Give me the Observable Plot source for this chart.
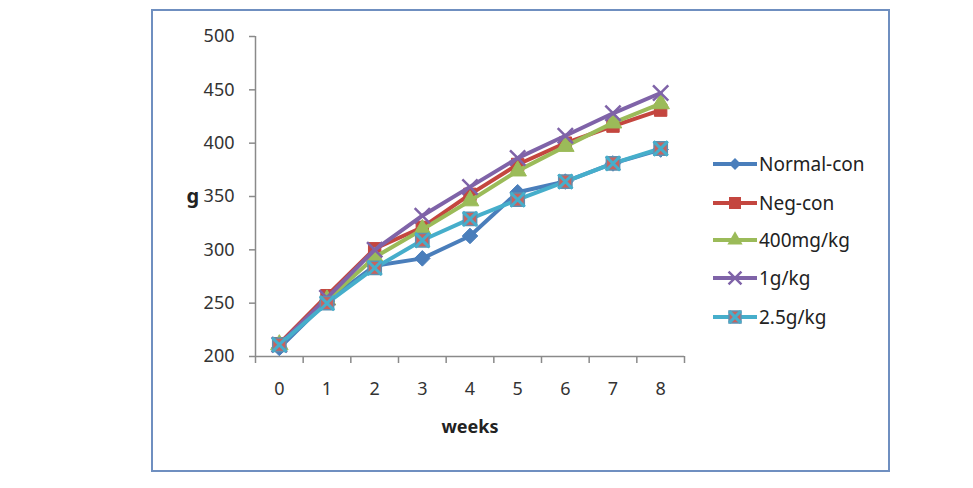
<!DOCTYPE html>
<html>
<head>
<meta charset="utf-8">
<script src="https://cdn.jsdelivr.net/npm/d3@7"></script>
<script src="https://cdn.jsdelivr.net/npm/@observablehq/plot@0.6"></script>
<style>
  html, body { margin: 0; padding: 0; background: #fff; }
  #wrap { position: relative; width: 973px; height: 488px; overflow: hidden; font-family: "Noto Sans", sans-serif; }
  #frame { position: absolute; left: 151px; top: 9px; width: 735px; height: 459px; border: 2px solid #6f8fc0; box-sizing: content-box; }
  #chart { position: absolute; left: 0; top: 0; }
  #legend { position: absolute; left: 700px; top: 140px; }
</style>
</head>
<body>
<div id="wrap"><div id="frame"></div><div id="chart"></div><svg id="legend" width="200" height="200"></svg></div>
<script>
const weeks = [0, 1, 2, 3, 4, 5, 6, 7, 8];
const weekLabels = ["0", "1", "2", "3", "4", "5", "6", "7", "8"];
const seriesNames = ["Normal-con", "Neg-con", "400mg/kg", "1g/kg", "2.5g/kg"];
const normalCon = [208, 252, 285, 292, 313, 354, 364, 381, 394];
const negCon    = [212, 257, 301, 321, 352, 380, 400, 416, 431];
const mg400     = [211, 253, 293, 319, 346, 374, 397, 419, 437];
const g1        = [211, 255, 300, 332, 359, 386, 407, 428, 447];
const g25       = [211, 250, 283, 309, 329, 347, 364, 381, 395];
const yTicks = [200, 250, 300, 350, 400, 450, 500];
const colors = ["#4a7ebb", "#c4463f", "#9bbb59", "#7f63a8", "#46aecb"];
const symbols = ["diamond2", "square", "triangle", "times", "square"];
const sizes = [7, 7, 6.5, 7, 7.5];

const allSeries = [normalCon, negCon, mg400, g1, g25];
const rows = [];
allSeries.forEach((vals, si) => vals.forEach((v, i) => rows.push({series: seriesNames[si], si, week: weeks[i], value: v})));

const marks = [
  Plot.ruleX([-0.5], {stroke: "#8a8a8a", strokeWidth: 1.5}),
  Plot.ruleY([200], {stroke: "#8a8a8a", strokeWidth: 1.5}),
  Plot.axisY({ticks: yTicks, tickSize: 6, tickPadding: 15, label: null, stroke: "#8a8a8a", fill: "#333", strokeWidth: 1.5}),
  Plot.axisX({ticks: d3.range(-0.5, 9, 1), tickSize: 7, tickFormat: () => "", label: null, stroke: "#8a8a8a", strokeWidth: 1.5}),
  Plot.axisX({ticks: weeks, tickSize: 0, tickPadding: 26, tickFormat: (d, i) => weekLabels[i], label: null, fill: "#333"}),
  Plot.text(["weeks"], {frameAnchor: "bottom", dy: 76, fontWeight: "bold", fontSize: 18, fill: "#222"}),
  Plot.text(["g"], {frameAnchor: "left", dx: -69, dy: 0, fontWeight: "bold", fontSize: 20, fill: "#222"})
];

seriesNames.forEach((name, si) => {
  const data = rows.filter(r => r.si === si);
  marks.push(Plot.line(data, {x: "week", y: "value", stroke: colors[si], strokeWidth: 4, strokeLinejoin: "round"}));
  if (si === 4) {
    marks.push(Plot.dot(data, {x: "week", y: "value", symbol: "square", r: sizes[si], fill: "#c9625e", stroke: "#5f90b0", strokeWidth: 1.5}));
    marks.push(Plot.dot(data, {x: "week", y: "value", symbol: "times", r: 6.5, stroke: colors[si], strokeWidth: 3}));
  } else if (symbols[si] === "times") {
    marks.push(Plot.dot(data, {x: "week", y: "value", symbol: "times", r: sizes[si], stroke: colors[si], strokeWidth: 2.5}));
  } else {
    marks.push(Plot.dot(data, {x: "week", y: "value", symbol: symbols[si], r: sizes[si], fill: colors[si], stroke: colors[si], strokeWidth: 1}));
  }
});

const chart = Plot.plot({
  width: 973, height: 488,
  marginLeft: 255, marginRight: 289, marginTop: 36, marginBottom: 132,
  x: {type: "linear", domain: [-0.5, 8.5]},
  y: {domain: [200, 500]},
  style: {fontFamily: "Noto Sans, sans-serif", fontSize: "18px", background: "transparent", overflow: "visible"},
  marks
});
document.getElementById("chart").appendChild(chart);

// legend
const lg = d3.select("#legend");
const rowY = [24, 63, 100, 138, 177];
seriesNames.forEach((name, si) => {
  const g = lg.append("g").attr("transform", `translate(0,${rowY[si]})`);
  g.append("line").attr("x1", 13).attr("x2", 57).attr("y1", 0).attr("y2", 0).attr("stroke", colors[si]).attr("stroke-width", 4);
  const cx = 35;
  if (si === 0) {
    g.append("path").attr("transform", `translate(${cx},0)`).attr("d", d3.symbol(d3.symbolDiamond2, 90)()).attr("fill", colors[si]);
  } else if (si === 1) {
    g.append("rect").attr("x", cx - 6).attr("y", -6).attr("width", 12).attr("height", 12).attr("fill", colors[si]);
  } else if (si === 2) {
    g.append("path").attr("transform", `translate(${cx},0)`).attr("d", d3.symbol(d3.symbolTriangle, 100)()).attr("fill", colors[si]);
  } else if (si === 3) {
    g.append("path").attr("transform", `translate(${cx},0)`).attr("d", d3.symbol(d3.symbolTimes, 110)()).attr("stroke", colors[si]).attr("stroke-width", 2.5).attr("fill", "none");
  } else {
    g.append("rect").attr("x", cx - 6).attr("y", -6).attr("width", 12).attr("height", 12).attr("fill", "#c9625e").attr("stroke", "#5f90b0").attr("stroke-width", 1.5);
    g.append("path").attr("transform", `translate(${cx},0)`).attr("d", d3.symbol(d3.symbolTimes, 90)()).attr("stroke", colors[si]).attr("stroke-width", 3).attr("fill", "none");
  }
  g.append("text").attr("x", 59).attr("y", 0).attr("dy", "0.35em").attr("font-size", 19).attr("fill", "#222").text(name);
});
</script>
</body>
</html>
